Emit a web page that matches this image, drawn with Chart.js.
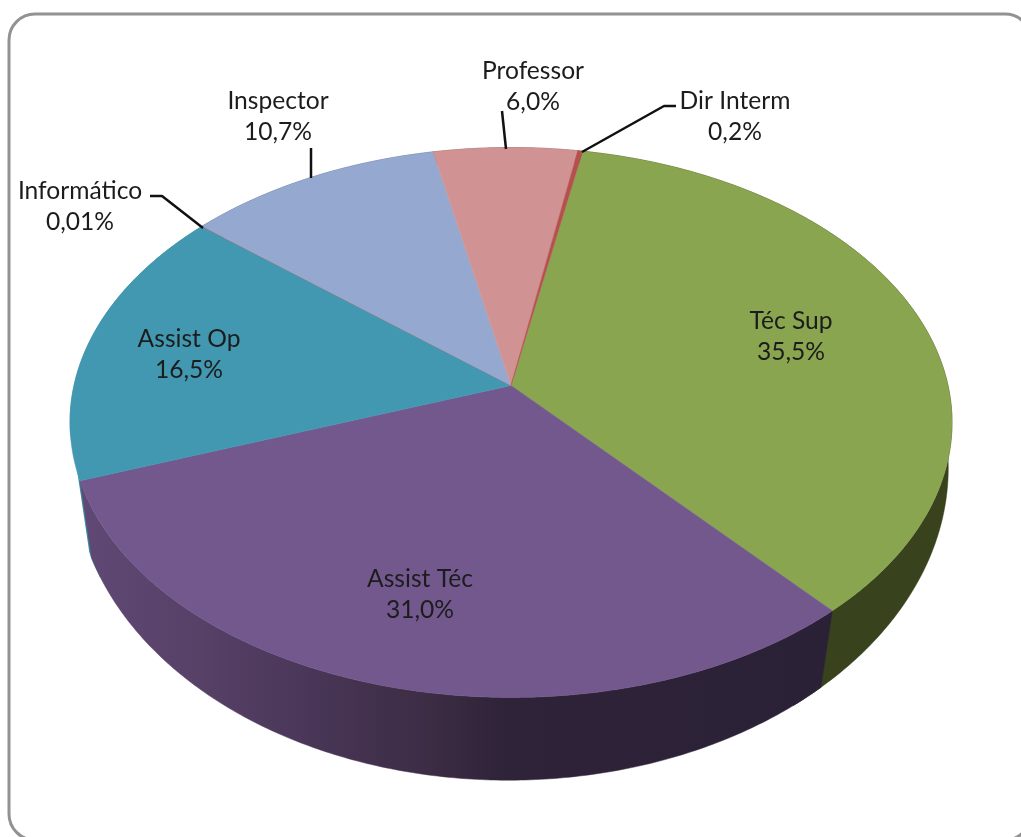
<!DOCTYPE html>
<html>
<head>
<meta charset="utf-8">
<style>
html,body{margin:0;padding:0;background:#fff;overflow:hidden}
canvas{display:block;filter:blur(0.45px)}
</style>
<script src="https://cdn.jsdelivr.net/npm/chart.js@4"></script>
</head>
<body>
<canvas id="c" width="1021" height="837"></canvas>
<script>
// Data
const categories = ['Téc Sup','Assist Téc','Assist Op','Informático','Inspector','Professor','Dir Interm'];
const shares = [35.5,31.0,16.5,0.01,10.7,6.0,0.2];
const shareLabels = ['35,5%','31,0%','16,5%','0,01%','10,7%','6,0%','0,2%'];
const topColors = ['#8aa54f','#73588e','#4198b0','#a05a58','#95a9d0','#d09292','#b5504e'];
const sideColors = ['#38421d',null,'#3a90a6','#3a90a6','#50618a','#7a5050','#6a2a28'];

// Layout of the labels and leader lines (not data)
const labelPos = [[791,321],[420,579],[189,339],[80,191],[278,101],[533,71],[735,101]];
const leaderLines = [
  [[150,196],[162,196],[203,228]],
  [[311,148],[311,178]],
  [[506,149],[502,111]],
  [[582,152],[664,106],[676,106]]
];
const TOP = {cx:511, cy:385.5, a:270, c:-0.1345, s:437, tilt:0};
const BOTTOM = {cx:511, cy:434.4, a:306, c:-0.115, s:434, tilt:0.01};
// Small angular shifts of each slice's lower wall edge: the rim is not a perfect perspective circle
const wallShift = [[0,0.1],[0.02,-0.04],[-0.1,0],[0,0],[0,0],[0,0],[0,0]];

function project(p, ang){
  const x=Math.cos(ang), y=Math.sin(ang), w=1+p.c*y;
  const X=p.s*x/w, Y=p.a*y/w;
  return [p.cx+X+p.tilt*Y, p.cy+Y-p.tilt*X];
}
function tracePts(ctx, p, a0, a1, first){
  const n=Math.max(2,Math.ceil(Math.abs(a1-a0)/0.01));
  for(let i=0;i<=n;i++){
    const pt=project(p,a0+(a1-a0)*i/n);
    if(i===0&&first) ctx.moveTo(pt[0],pt[1]); else ctx.lineTo(pt[0],pt[1]);
  }
}
function purpleSide(ctx){
  const g=ctx.createLinearGradient(85,0,830,0);
  [[0,'#5f4874'],[0.154,'#574167'],[0.29,'#4a3759'],[0.463,'#3c2c44'],[0.57,'#2e2338'],[1,'#2b2136']]
    .forEach(s=>g.addColorStop(s[0],s[1]));
  return g;
}
const pie3d={
  id:'pie3d',
  beforeDatasetsDraw(chart){
    const ctx=chart.ctx, arcs=chart.getDatasetMeta(0).data;
    ctx.save();
    // side walls, back to front; the left silhouette of the rim is nearly straight
    ctx.save();
    ctx.beginPath();
    ctx.moveTo(60,380); ctx.lineTo(77,470); ctx.lineTo(90,557); ctx.lineTo(90,837);
    ctx.lineTo(1021,837); ctx.lineTo(1021,0); ctx.lineTo(60,0); ctx.closePath();
    ctx.clip();
    [4,5,6,3,2,0,1].forEach(i=>{
      const {startAngle:s,endAngle:e}=arcs[i].getProps(['startAngle','endAngle'],true);
      ctx.beginPath();
      tracePts(ctx,TOP,s,e,true);
      tracePts(ctx,BOTTOM,e+wallShift[i][1],s+wallShift[i][0],false);
      ctx.closePath();
      const col=sideColors[i]||purpleSide(ctx);
      ctx.fillStyle=col; ctx.strokeStyle=col; ctx.lineWidth=0.5;
      ctx.fill(); ctx.stroke();
    });
    ctx.restore();
    // top faces
    arcs.forEach((arc,i)=>{
      const {startAngle:s,endAngle:e}=arc.getProps(['startAngle','endAngle'],true);
      ctx.beginPath();
      ctx.moveTo(TOP.cx,TOP.cy);
      tracePts(ctx,TOP,s,e,false);
      ctx.closePath();
      ctx.fillStyle=arc.options.backgroundColor;
      ctx.strokeStyle=arc.options.backgroundColor; ctx.lineWidth=0.5;
      ctx.fill(); ctx.stroke();
    });
    // leader lines
    ctx.strokeStyle='#111'; ctx.lineWidth=2.5; ctx.lineJoin='round';
    leaderLines.forEach(l=>{
      ctx.beginPath();
      l.forEach((p,i)=>i?ctx.lineTo(p[0],p[1]):ctx.moveTo(p[0],p[1]));
      ctx.stroke();
    });
    // labels
    ctx.fillStyle='#1c1c1c'; ctx.font='24.6px Lato'; ctx.textAlign='center'; ctx.textBaseline='middle';
    categories.forEach((name,i)=>{
      ctx.fillText(name,labelPos[i][0],labelPos[i][1]);
      ctx.fillText(shareLabels[i],labelPos[i][0],labelPos[i][1]+31);
    });
    ctx.restore();
    return false;
  }
};
const frame={
  id:'frame',
  beforeDraw(chart){
    const ctx=chart.ctx;
    ctx.save();
    ctx.fillStyle='#fff'; ctx.fillRect(0,0,1021,837);
    ctx.strokeStyle='#929292'; ctx.lineWidth=3;
    ctx.beginPath(); ctx.roundRect(9,14,1022,826,26); ctx.stroke();
    ctx.restore();
  }
};
new Chart(document.getElementById('c'),{
  type:'pie',
  data:{labels:categories,datasets:[{data:shares,backgroundColor:topColors,borderWidth:0}]},
  options:{
    responsive:false,animation:false,rotation:10.7,
    plugins:{legend:{display:false},tooltip:{enabled:false}}
  },
  plugins:[frame,pie3d]
});
</script>
</body>
</html>
